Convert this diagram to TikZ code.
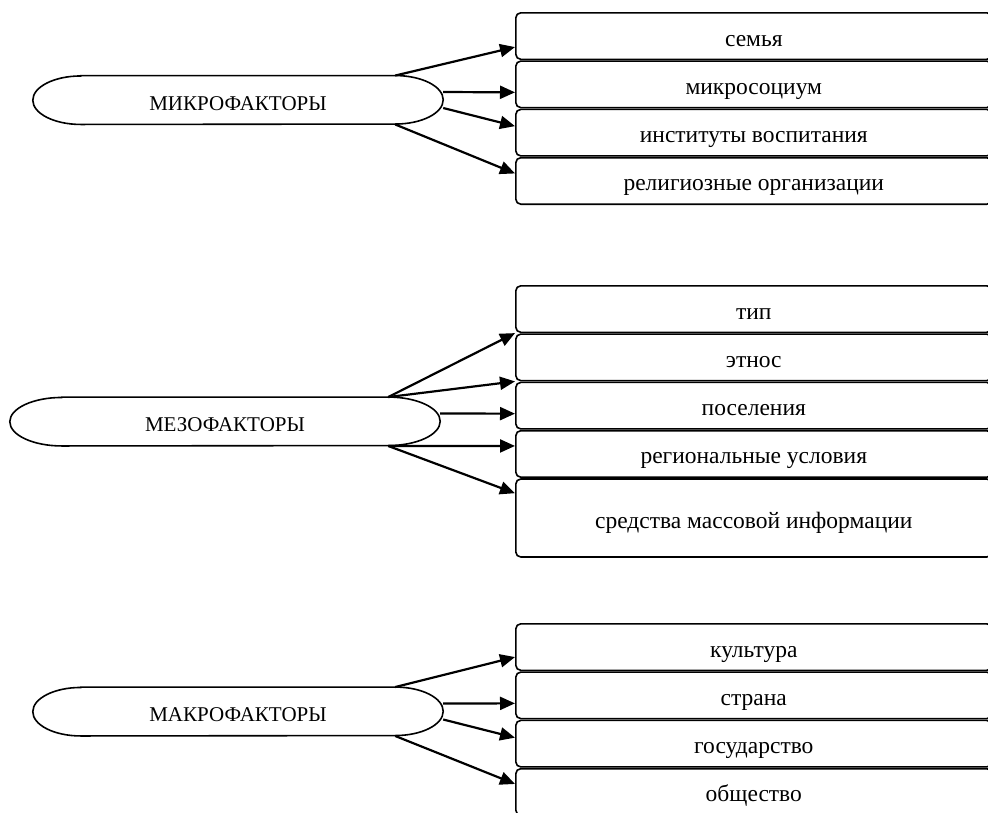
\documentclass[tikz,border=0pt]{standalone}
\usepackage{fontspec}
\setmainfont{Liberation Serif}
\usetikzlibrary{arrows.meta}
\usetikzlibrary{positioning}

\begin{document}
\begin{tikzpicture}[x=1pt, y=1pt,
                      factor/.style={minimum width=410pt, minimum height=48.5pt, inner sep=0pt,
                                     text height=24pt, text depth=4pt,
                                     font=\fontsize{21}{24}\selectfont},
                      item/.style={draw, line width=1.6pt, rounded corners=5pt,
                                   minimum width=476pt, minimum height=46.5pt, inner sep=0pt,
                                   text height=24pt, text depth=4pt,
                                   font=\fontsize{23.5}{27}\selectfont},
                      conn/.style={line width=2.2pt, -{Triangle[length=15pt, width=13pt]}},
                      node distance=0.2pt]
    \useasboundingbox (0,0) rectangle (988,-812);
    \clip (0,0) rectangle (988,-812);
    % factor groups
    \node[factor] (micro) at (238,-100) {МИКРОФАКТОРЫ};
    \node[factor, minimum width=430pt] (meso) at (225,-421.5) {МЕЗОФАКТОРЫ};
    \node[factor] (macro) at (238,-711.5) {МАКРОФАКТОРЫ};
    \foreach \f/\r in {micro/48, meso/52, macro/48}{
      \draw[line width=1.6pt] ([xshift=\r pt]\f.north west) -- ([xshift=-\r pt]\f.north east)
        arc[start angle=90, end angle=-90, x radius=\r pt, y radius=24.25pt]
        -- ([xshift=\r pt]\f.south west)
        arc[start angle=270, end angle=90, x radius=\r pt, y radius=24.25pt] -- cycle;
    }
    % micro
    \node[item, anchor=north west] (family) at (515,-12) {семья};
    \node[item, below=of family] (socium) {микросоциум};
    \node[item, below=of socium] (inst) {институты воспитания};
    \node[item, below=of inst] (relig) {религиозные организации};
    % meso
    \node[item, anchor=north west] (type) at (515,-285) {тип};
    \node[item, below=of type] (ethnos) {этнос};
    \node[item, below=of ethnos] (settle) {поселения};
    \node[item, below=of settle] (region) {региональные условия};
    \node[item, below=of region, minimum height=78pt] (media) {средства массовой информации};
    % macro
    \node[item, anchor=north west] (culture) at (515,-623) {культура};
    \node[item, below=of culture] (country) {страна};
    \node[item, below=of country] (state) {государство};
    \node[item, below=of state] (society) {общество};
    % arrows
    \draw[conn] ([xshift=-48pt]micro.north east) -- ([yshift=-11pt]family.west);
    \draw[conn] ([yshift=8pt]micro.east) -- ([yshift=-8pt]socium.west);
    \draw[conn] ([yshift=-8pt]micro.east) -- ([yshift=6.5pt]inst.west);
    \draw[conn] ([xshift=-48pt]micro.south east) -- ([yshift=7.5pt]relig.west);
    \draw[conn] ([xshift=-52pt]meso.north east) -- (type.south west);
    \draw[conn] ([xshift=-52pt]meso.north east) -- (ethnos.south west);
    \draw[conn] ([yshift=8pt]meso.east) -- ([yshift=-8pt]settle.west);
    \draw[conn] ([xshift=-52pt]meso.south east) -- ([yshift=8pt]region.west);
    \draw[conn] ([xshift=-52pt]meso.south east) -- ([yshift=-15pt]media.north west);
    \draw[conn] ([xshift=-48pt]macro.north east) -- ([yshift=-10pt]culture.west);
    \draw[conn] ([yshift=8pt]macro.east) -- ([yshift=-8pt]country.west);
    \draw[conn] ([yshift=-8pt]macro.east) -- ([yshift=6pt]state.west);
    \draw[conn] ([xshift=-48pt]macro.south east) -- ([yshift=8pt]society.west);
\end{tikzpicture}
\end{document}
